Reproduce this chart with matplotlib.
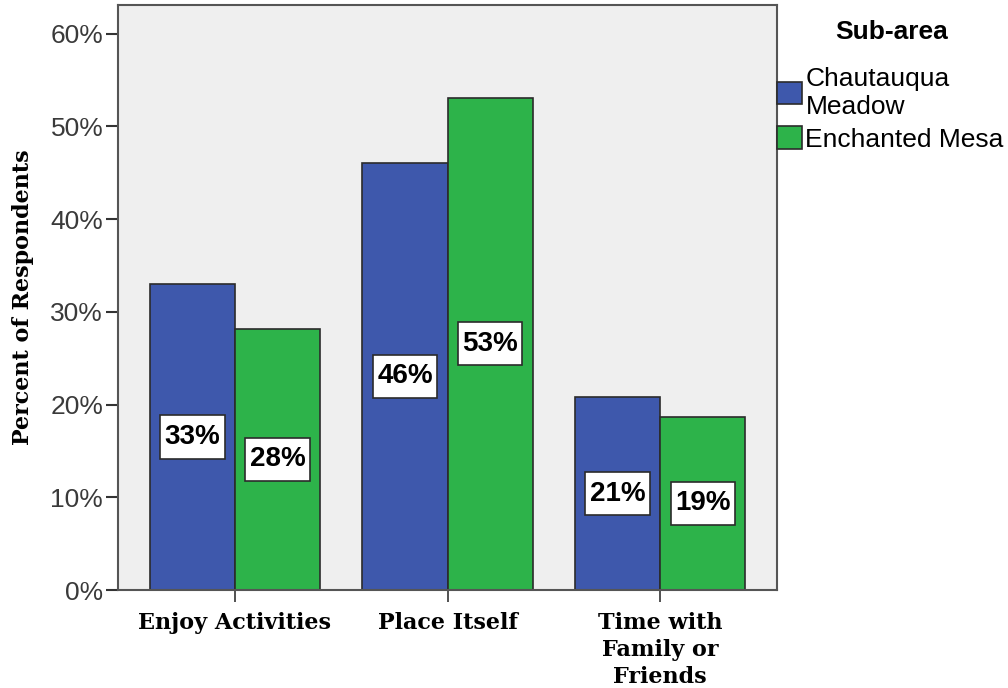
import numpy as np
import matplotlib
matplotlib.use("Agg")
import matplotlib.pyplot as plt
from matplotlib.patches import Patch
from matplotlib.path import Path

categories = ["Enjoy Activities", "Place Itself", "Time with\nFamily or\nFriends"]
series_names = ["Chautauqua\nMeadow", "Enchanted Mesa"]
chautauqua = [33.0, 46.1, 20.8]
enchanted = [28.2, 53.1, 18.7]
yticks = [0, 10, 20, 30, 40, 50, 60]

colors = ["#3E58AC", "#2DB34A"]
edge = "#2b2b2b"
sans = "Liberation Sans"
serif = "DejaVu Serif"


def label_box(x0, y0, width, height, mutation_size):
    # rectangle with a little side padding and more room above/below
    px, py = 0.16 * mutation_size, 0.31 * mutation_size
    x0, x1 = x0 - px, x0 + width + px
    y0, y1 = y0 - py, y0 + height + py
    return Path([(x0, y0), (x1, y0), (x1, y1), (x0, y1), (x0, y0)], closed=True)


fig = plt.figure(figsize=(10.08, 6.88), dpi=100)
ax = fig.add_axes([0.117, 0.1424, 0.654, 0.8503])
ax.set_facecolor("#EFEFEF")

x = np.arange(len(categories))
w = 0.4
for i, (vals, col) in enumerate(zip([chautauqua, enchanted], colors)):
    pos = x - w / 2 + i * w
    ax.bar(pos, vals, width=w, color=col, edgecolor=edge, linewidth=1.2, zorder=2)
    # value labels in white boxes at half height
    for px, v in zip(pos, vals):
        ax.text(px, v / 2, f"{round(v)}%", ha="center", va="center",
                fontsize=20, fontweight="bold", family=sans,
                bbox=dict(boxstyle=label_box, fc="white", ec=edge, lw=1.2),
                zorder=3)

ax.set_xlim(-0.55, 2.55)
ax.set_ylim(0, 63.1)
ax.set_yticks(yticks)
ax.set_yticklabels([f"{t}%" for t in yticks], family=sans,
                   fontsize=19, color="#3a3a3a")
ax.set_xticks(x)
ax.set_xticklabels(categories, family=serif, fontweight="bold",
                   fontsize=16, linespacing=1.3)
ax.tick_params(axis="y", length=8.6, width=1.5, color="#333333", pad=2)
ax.tick_params(axis="x", length=8.6, width=1.2, color="#333333", pad=7)
for s in ax.spines.values():
    s.set_color("#555555")
    s.set_linewidth(1.5)

ax.set_ylabel("Percent of Respondents", family=serif,
              fontweight="bold", fontsize=16, labelpad=12)

# legend entries with the title placed separately above them
handles = [Patch(facecolor=c, edgecolor=edge, linewidth=1.2) for c in colors]
leg = fig.legend(handles, series_names, loc="upper left",
                 bbox_to_anchor=(0.771, 0.903), frameon=False,
                 borderpad=0, borderaxespad=0,
                 handlelength=0.95, handleheight=0.95,
                 handletextpad=0.12, labelspacing=0.29,
                 prop={"family": sans, "size": 19})
fig.text(0.885, 1 - 32 / 688, "Sub-area", ha="center", va="center",
         family=sans, fontsize=19, fontweight="bold")

fig.savefig("out.png", dpi=100)
